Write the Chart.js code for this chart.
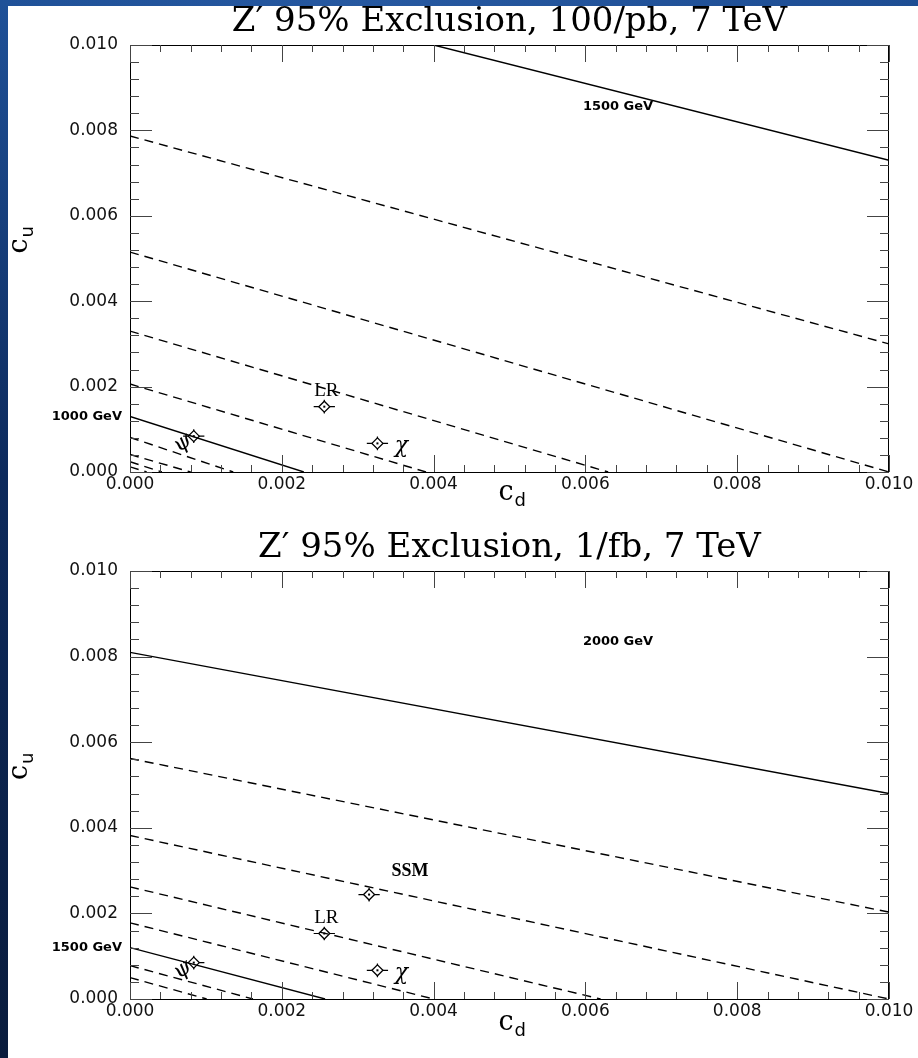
<!DOCTYPE html>
<html>
<head>
<meta charset="utf-8">
<script src="https://cdn.jsdelivr.net/npm/chart.js@4.4.1/dist/chart.umd.min.js"></script>
<style>
  html, body { margin: 0; padding: 0; }
  body { width: 918px; height: 1058px; background: #fff; position: relative; overflow: hidden; }
  #edgeLeft { position: absolute; left: 0; top: 0; width: 8px; height: 1058px; background: linear-gradient(#1f5198, #0d2a5c 45%, #0a1c3d); }
  #edgeTop { position: absolute; left: 0; top: 0; width: 918px; height: 6px; background: linear-gradient(90deg, #1f5198, #2658a0 40%, #1d4d93); }
  canvas { position: absolute; left: 0; }
</style>
</head>
<body>
<div id="edgeLeft"></div>
<div id="edgeTop"></div>
<canvas id="top" width="918" height="529" style="top:0"></canvas>
<canvas id="bottom" width="918" height="529" style="top:529px"></canvas>
<script>
// axis ticks
const cdTicks = [0, 0.002, 0.004, 0.006, 0.008, 0.010];
const cuTicks = [0, 0.002, 0.004, 0.006, 0.008, 0.010];
const minorStep = 0.0004;

// 100/pb contours: [start, end] as [c_d, c_u]
const pb100Solid = [
  [[0.0040, 0.0100], [0.0100, 0.0073]],   // 1500 GeV
  [[0.0000, 0.0013], [0.00229, 0.0000]]   // 1000 GeV
];
const pb100Dashed = [
  [[0, 0.00787], [0.0100, 0.0030]],
  [[0, 0.00515], [0.0100, 0.0000]],
  [[0, 0.00330], [0.0063, 0.0000]],
  [[0, 0.00206], [0.0039, 0.0000]],
  [[0, 0.00081], [0.00136, 0.0000]],
  [[0, 0.00041], [0.00080, 0.0000]],
  [[0, 0.00024], [0.00042, 0.0000]],
  [[0, 0.00012], [0.00022, 0.0000]]
];
const pb100MassLabels = ['1500 GeV', '1000 GeV'];

// 1/fb contours
const fb1Solid = [
  [[0.0000, 0.0081], [0.0100, 0.0048]],   // 2000 GeV
  [[0.0000, 0.0012], [0.00257, 0.0000]]   // 1500 GeV
];
const fb1Dashed = [
  [[0, 0.00562], [0.0100, 0.00203]],
  [[0, 0.00382], [0.0100, 0.0000]],
  [[0, 0.00262], [0.0062, 0.0000]],
  [[0, 0.00178], [0.0040, 0.0000]],
  [[0, 0.00078], [0.00162, 0.0000]],
  [[0, 0.00050], [0.00101, 0.0000]]
];
const fb1MassLabels = ['2000 GeV', '1500 GeV'];

// Z' models
const pb100Models = ['ψ', 'LR', 'χ'];
const pb100ModelCd = [0.00084, 0.00256, 0.00326];
const pb100ModelCu = [0.00084, 0.00153, 0.00067];
const fb1Models = ['ψ', 'LR', 'SSM', 'χ'];
const fb1ModelCd = [0.00084, 0.00256, 0.00315, 0.00326];
const fb1ModelCu = [0.00085, 0.00153, 0.00244, 0.00067];
const modelErrCd = 0.00014;
const modelErrCu = 0.00016;

// label offsets in pixels from the model point
const modelLabelStyle = {
  'ψ':  { dx: -11, dy: 7, font: 'italic 22px "DejaVu Serif"', rot: -0.6 },
  'LR': { dx: 2, dy: -16, font: '19px "Liberation Serif"', rot: 0 },
  'χ':  { dx: 24, dy: 3, font: 'italic 22px "DejaVu Serif"', rot: 0 },
  'SSM': { dx: 41, dy: -23, font: 'bold 18px "Liberation Serif"', rot: 0 }
};

const tickFont = { family: 'DejaVu Sans', size: 17 };

function lineSet(seg, dash) {
  return {
    data: seg.map(p => ({ x: p[0], y: p[1] })),
    showLine: true,
    borderColor: '#000',
    borderWidth: 1.4,
    borderDash: dash,
    pointRadius: 0
  };
}

function makeChart(id, spec) {
  const datasets = [];
  spec.solid.forEach(seg => datasets.push(lineSet(seg, [])));
  spec.dashed.forEach(seg => datasets.push(lineSet(seg, [9, 6])));
  datasets.push({
    data: spec.cd.map((x, i) => ({ x: x, y: spec.cu[i] })),
    showLine: false,
    pointStyle: 'rectRot',
    pointRadius: 5.5,
    borderWidth: 1.3,
    borderColor: '#000',
    backgroundColor: '#fff'
  });
  const modelIdx = datasets.length - 1;

  const decor = {
    id: 'decor',
    beforeDatasetsDraw(chart) {
      const { ctx, scales: { x, y } } = chart;
      const pts = chart.getDatasetMeta(modelIdx).data;
      ctx.save();
      ctx.strokeStyle = '#000';
      ctx.lineWidth = 1.2;
      pts.forEach((p, i) => {
        const dx = x.getPixelForValue(spec.cd[i] + modelErrCd) - p.x;
        const dy = p.y - y.getPixelForValue(spec.cu[i] + modelErrCu);
        ctx.beginPath();
        ctx.moveTo(p.x - dx, p.y); ctx.lineTo(p.x + dx, p.y);
        ctx.moveTo(p.x, p.y - dy); ctx.lineTo(p.x, p.y + dy);
        ctx.stroke();
      });
      ctx.restore();
    },
    afterDatasetsDraw(chart) {
      const { ctx, chartArea: a, scales: { x, y } } = chart;
      ctx.save();
      // frame
      ctx.strokeStyle = '#000';
      ctx.lineWidth = 1;
      ctx.strokeRect(a.left + 0.5, a.top + 0.5, a.width - 1, a.height);
      // inward ticks on all four sides
      ctx.strokeStyle = '#444';
      for (let k = 0; k * minorStep <= 0.0100001; k++) {
        const v = k * minorStep;
        const major = k % 5 === 0;
        const lx = major ? 17 : 7, ly = major ? 22 : 9;
        const px = Math.round(x.getPixelForValue(v)) + 0.5;
        const py = Math.round(y.getPixelForValue(v)) + 0.5;
        ctx.beginPath();
        ctx.moveTo(px, a.bottom); ctx.lineTo(px, a.bottom - lx);
        ctx.moveTo(px, a.top); ctx.lineTo(px, a.top + lx);
        ctx.moveTo(a.left, py); ctx.lineTo(a.left + ly, py);
        ctx.moveTo(a.right, py); ctx.lineTo(a.right - ly, py);
        ctx.stroke();
      }
      // centre dots of the model diamonds
      ctx.fillStyle = '#000';
      chart.getDatasetMeta(modelIdx).data.forEach(p => ctx.fillRect(p.x - 1, p.y - 1, 2, 2));
      // model names
      spec.models.forEach((name, i) => {
        const st = modelLabelStyle[name];
        const p = chart.getDatasetMeta(modelIdx).data[i];
        ctx.save();
        ctx.translate(p.x + st.dx, p.y + st.dy);
        ctx.rotate(st.rot);
        ctx.font = st.font;
        ctx.textAlign = 'center';
        ctx.textBaseline = 'middle';
        ctx.fillText(name, 0, 0);
        ctx.restore();
      });
      // mass labels: first in the plot, second beside the y axis at its contour
      ctx.font = 'bold 13px "DejaVu Sans"';
      ctx.textBaseline = 'middle';
      ctx.textAlign = 'center';
      ctx.fillText(spec.mass[0], x.getPixelForValue(spec.massAt[0]), y.getPixelForValue(spec.massAt[1]));
      ctx.textAlign = 'right';
      ctx.fillText(spec.mass[1], a.left - 8, y.getPixelForValue(spec.solid[1][0][1]));
      // axis titles with subscripts
      const cx = (a.left + a.right) / 2;
      ctx.textAlign = 'left';
      ctx.textBaseline = 'alphabetic';
      ctx.font = '27px "DejaVu Serif"';
      const yb = a.bottom + spec.cdGap;
      ctx.fillText('c', cx - 11, yb);
      ctx.font = '18px "DejaVu Sans"';
      ctx.fillText('d', cx + 5, yb + 6);
      ctx.save();
      ctx.translate(27, (a.top + a.bottom) / 2 - 16);
      ctx.rotate(-Math.PI / 2);
      ctx.font = '27px "DejaVu Serif"';
      ctx.fillText('c', -11, 0);
      ctx.font = '18px "DejaVu Sans"';
      ctx.fillText('u', 5, 6);
      ctx.restore();
      ctx.restore();
    }
  };

  return new Chart(document.getElementById(id), {
    type: 'scatter',
    data: { datasets: datasets },
    plugins: [decor],
    options: {
      responsive: false,
      animation: false,
      layout: { padding: { top: 0, left: 8, right: 29, bottom: 0 } },
      plugins: {
        legend: { display: false },
        tooltip: { enabled: false },
        title: {
          display: true,
          text: spec.title,
          fullSize: false,
          color: '#000',
          font: { family: 'DejaVu Serif', size: 34, weight: 'normal', lineHeight: 1.0 },
          padding: spec.titlePad
        }
      },
      scales: {
        x: {
          type: 'linear', min: 0, max: 0.01,
          grid: { display: false, drawTicks: false },
          border: { display: false },
          ticks: { font: tickFont, color: '#111', padding: 2, autoSkip: false, maxRotation: 0, callback: v => v.toFixed(3) },
          afterBuildTicks: s => { s.ticks = cdTicks.map(v => ({ value: v })); },
          afterFit: s => { s.height = spec.xAxisH; }
        },
        y: {
          type: 'linear', min: 0, max: 0.01,
          grid: { display: false, drawTicks: false },
          border: { display: false },
          ticks: { font: tickFont, color: '#111', padding: 12, autoSkip: false, callback: v => v.toFixed(3) },
          afterBuildTicks: s => { s.ticks = cuTicks.map(v => ({ value: v })); },
          afterFit: s => { s.width = 122; }
        }
      }
    }
  });
}

makeChart('top', {
  title: 'Z′ 95% Exclusion, 100/pb, 7 TeV',
  titlePad: { top: 5, bottom: 6 },
  xAxisH: 57,
  cdGap: 28,
  solid: pb100Solid, dashed: pb100Dashed,
  models: pb100Models, cd: pb100ModelCd, cu: pb100ModelCu,
  mass: pb100MassLabels, massAt: [0.00643, 0.00855]
});

makeChart('bottom', {
  title: 'Z′ 95% Exclusion, 1/fb, 7 TeV',
  titlePad: { top: 2, bottom: 6 },
  xAxisH: 59,
  cdGap: 31,
  solid: fb1Solid, dashed: fb1Dashed,
  models: fb1Models, cd: fb1ModelCd, cu: fb1ModelCu,
  mass: fb1MassLabels, massAt: [0.00643, 0.00834]
});
</script>
</body>
</html>
